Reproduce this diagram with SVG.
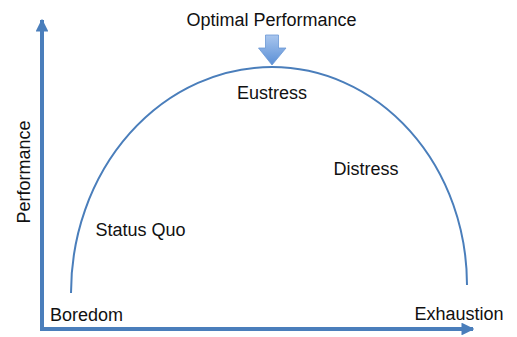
<svg xmlns="http://www.w3.org/2000/svg" width="517" height="337" viewBox="0 0 517 337">
<defs>
<style>
.lbl{font-family:"Liberation Sans",Arial,sans-serif;font-size:18px;fill:#111;text-anchor:middle}
.axis{stroke:#4a7ebb;stroke-width:4;fill:none}
.curve{stroke:#4a7ebb;stroke-width:2;fill:none}
</style>
<marker id="ah" viewBox="0 0 10 10" refX="9" refY="5" markerWidth="3.2" markerHeight="3.2" markerUnits="strokeWidth" orient="auto">
<path d="M0,0 L10,5 L0,10 z" fill="#4a7ebb"/>
</marker>
<linearGradient id="g" x1="0" y1="0" x2="0" y2="1">
<stop offset="0" stop-color="#a9c6ee"/>
<stop offset="1" stop-color="#5a8fd6"/>
</linearGradient>
</defs>
<g id="connectors">
<path class="axis" d="M42,329 L42,20" marker-end="url(#ah)"/>
<path class="axis" d="M40,329 L473,329" marker-end="url(#ah)"/>
<path class="curve" d="M71,293 A201,226 0 0 1 272,67 A195,218 0 0 1 467,285"/>
</g>
<g id="peak-arrow">
<path d="M265.5,35 L278.5,35 L278.5,48 L286,48 L272,65 L258.5,48 L265.5,48 z" fill="url(#g)" stroke="#6b98d4" stroke-width="0.8"/>
</g>
<g id="optimal"><text class="lbl" x="271.5" y="26">Optimal Performance</text></g>
<g id="eustress"><text class="lbl" x="272" y="99">Eustress</text></g>
<g id="distress"><text class="lbl" x="366" y="175">Distress</text></g>
<g id="statusquo"><text class="lbl" x="140.5" y="236">Status Quo</text></g>
<g id="boredom"><text class="lbl" x="86.5" y="321">Boredom</text></g>
<g id="exhaustion"><text class="lbl" x="459" y="320">Exhaustion</text></g>
<g id="performance"><text class="lbl" transform="translate(30,172) rotate(-90)" x="0" y="0">Performance</text></g>
</svg>
